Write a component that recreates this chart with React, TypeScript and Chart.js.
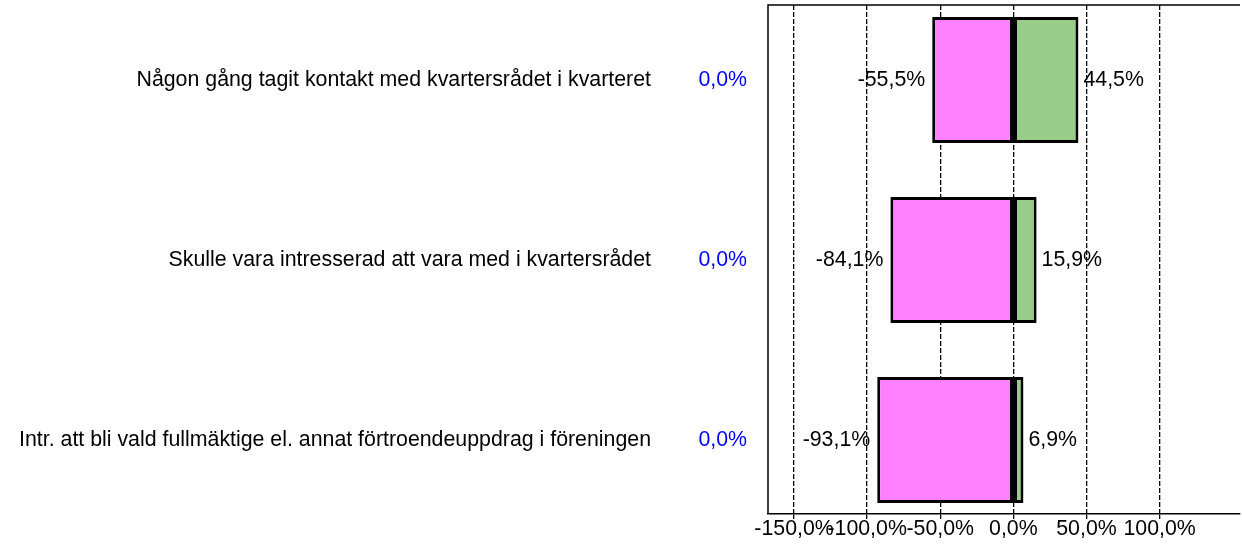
import { useEffect, useRef } from 'react';
import { Chart, registerables } from 'chart.js';

Chart.register(...registerables);

const categories = [
  'Någon gång tagit kontakt med kvartersrådet i kvarteret',
  'Skulle vara intresserad att vara med i kvartersrådet',
  'Intr. att bli vald fullmäktige el. annat förtroendeuppdrag i föreningen',
];
const noValues = [-55.5, -84.1, -93.1];
const yesValues = [44.5, 15.9, 6.9];
const sideValues = [0.0, 0.0, 0.0];
const xTickValues = [-150, -100, -50, 0, 50, 100];

const FONT = '"Liberation Sans", Arial, sans-serif';
const FONT_SIZE = 21.33;

const fmt = (v: number) => v.toFixed(1).replace('.', ',') + '%';

const labelPlugin = {
  id: 'labelPlugin',
  afterDatasetsDraw(chart: any) {
    const ctx = chart.ctx;
    const xScale = chart.scales.x;
    const x0 = xScale.getPixelForValue(0);
    const meta = chart.getDatasetMeta(0);
    ctx.save();
    ctx.fillStyle = '#000';
    meta.data.forEach((el: any) => {
      const h = el.height;
      ctx.fillRect(x0 - 2.5, el.y - h / 2, 5, h);
    });
    ctx.restore();
  },
  afterDraw(chart: any) {
    const ctx = chart.ctx;
    const area = chart.chartArea;
    const yScale = chart.scales.y;
    ctx.save();
    ctx.strokeStyle = '#000';
    ctx.lineWidth = 1.5;
    ctx.beginPath();
    ctx.moveTo(area.left, area.bottom);
    ctx.lineTo(area.left, area.top);
    ctx.lineTo(area.right, area.top);
    ctx.stroke();

    ctx.font = `${FONT_SIZE}px ${FONT}`;
    ctx.textBaseline = 'middle';
    chart.data.datasets.forEach((ds: any, di: number) => {
      const meta = chart.getDatasetMeta(di);
      meta.data.forEach((el: any, i: number) => {
        const v = ds.data[i].x;
        ctx.fillStyle = '#000';
        if (v < 0) {
          ctx.textAlign = 'right';
          ctx.fillText(fmt(v), Math.min(el.x, el.base) - 7, el.y);
        } else {
          ctx.textAlign = 'left';
          ctx.fillText(fmt(v), Math.max(el.x, el.base) + 5, el.y);
        }
      });
    });
    categories.forEach((c, i) => {
      const y = yScale.getPixelForValue(i);
      ctx.fillStyle = '#000';
      ctx.textAlign = 'right';
      ctx.fillText(c, 651, y);
      ctx.fillStyle = '#0000FF';
      ctx.fillText(fmt(sideValues[i]), 747, y);
    });
    ctx.restore();
  },
};

export default function App() {
  const ref = useRef<HTMLCanvasElement | null>(null);
  useEffect(() => {
    document.body.style.margin = '0';
    if (!ref.current) return;
    const chart = new Chart(ref.current, {
      type: 'bar',
      data: {
        datasets: [
          {
            label: 'Nej',
            data: noValues.map((v, i) => ({ x: v, y: i })),
            backgroundColor: '#FF80FF',
            borderColor: '#000',
            borderWidth: 3,
            borderSkipped: false,
            inflateAmount: 0,
            barThickness: 126,
            grouped: false,
          },
          {
            label: 'Ja',
            data: yesValues.map((v, i) => ({ x: v, y: i })),
            backgroundColor: '#99CC88',
            borderColor: '#000',
            borderWidth: 3,
            borderSkipped: false,
            inflateAmount: 0,
            barThickness: 126,
            grouped: false,
          },
        ],
      },
      options: {
        animation: false,
        responsive: true,
        maintainAspectRatio: false,
        indexAxis: 'y',
        layout: { padding: { left: 768, top: 5, right: 2, bottom: 0 } },
        plugins: {
          legend: { display: false },
          tooltip: { enabled: false },
        },
        scales: {
          x: {
            type: 'linear',
            min: -167.8,
            max: 155,
            afterBuildTicks: (scale: any) => {
              scale.ticks = xTickValues.map((v) => ({ value: v }));
            },
            afterFit: (scale: any) => {
              scale.height = 30;
            },
            ticks: {
              autoSkip: false,
              maxRotation: 0,
              minRotation: 0,
              padding: -3,
              color: '#000',
              font: { family: FONT, size: FONT_SIZE },
              callback: (v: any) => fmt(Number(v)),
            },
            grid: {
              color: '#000',
              lineWidth: 1.3,
              drawTicks: true,
              tickLength: 5,
              tickColor: '#000',
              tickBorderDash: [],
            },
            border: {
              display: true,
              color: '#000',
              width: 1.5,
              dash: [5, 2],
            },
          },
          y: {
            type: 'linear',
            display: false,
            offset: false,
            min: -0.4167,
            max: 2.4111,
            reverse: true,
          },
        },
      },
      plugins: [labelPlugin],
    } as any);
    return () => chart.destroy();
  }, []);
  return (
    <div style={{ position: 'absolute', left: 0, top: 0, width: 1242, height: 544 }}>
      <canvas ref={ref} />
    </div>
  );
}
